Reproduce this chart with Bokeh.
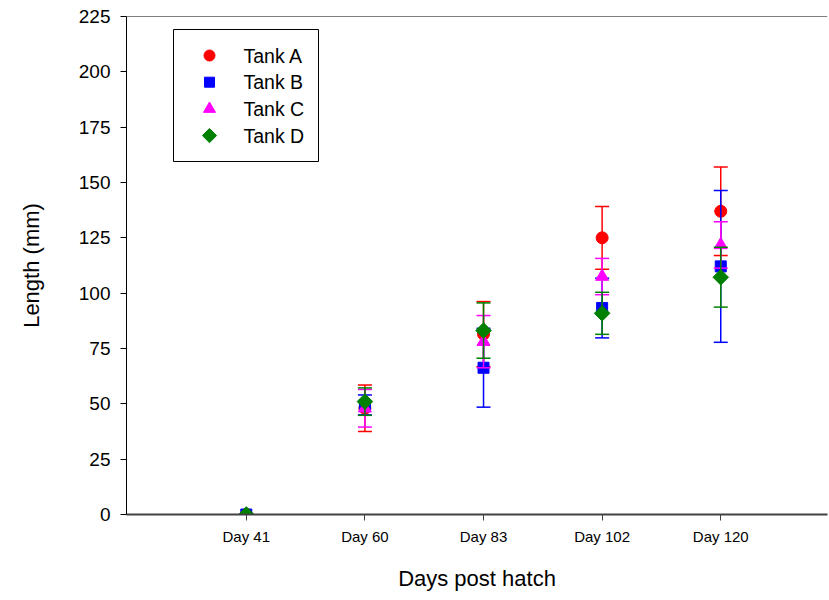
from bokeh.plotting import figure
from bokeh.models import Range1d, FixedTicker, Span
from bokeh.core.properties import value
from bokeh.embed import file_html
from bokeh.resources import INLINE
import math

days = ["Day 41", "Day 60", "Day 83", "Day 102", "Day 120"]
xpos = [1, 2, 3, 4, 5]

tank_a = [0, 48.0, 81.5, 125.0, 137.0]
tank_a_sd = [0, 10.5, 14.7, 14.2, 20.0]
tank_b = [0, 49.5, 66.3, 93.3, 112.1]
tank_b_sd = [0, 4.5, 17.8, 13.5, 34.3]
tank_c = [0, 48.0, 78.1, 107.5, 121.8]
tank_c_sd = [0, 8.5, 11.8, 8.2, 10.5]
tank_d = [0, 51.0, 83.1, 90.9, 107.2]
tank_d_sd = [0, 6.2, 12.5, 9.5, 13.5]

tank_names = ["Tank A", "Tank B", "Tank C", "Tank D"]
y_ticks = [0, 25, 50, 75, 100, 125, 150, 175, 200, 225]

FONT = "Liberation Sans"

# layout constants (pixels)
W, H = 829, 600
B_LEFT, B_RIGHT, B_TOP, B_BOTTOM = 126, 2, 16, 86
X0, X1, Y0, Y1 = -0.01, 5.9, 0, 225
FRAME_W = W - B_LEFT - B_RIGHT
FRAME_H = H - B_TOP - B_BOTTOM


def fx(px):  # frame pixel offset from left -> data x
    return X0 + px / FRAME_W * (X1 - X0)


def fy(py):  # frame pixel offset from top -> data y
    return Y1 - py / FRAME_H * (Y1 - Y0)


# legend box (frame pixel offsets)
LEG_L, LEG_T, LEG_R, LEG_B = 47, 13, 192, 145
LEG_MARK_X, LEG_TEXT_X = 83, 117
LEG_ROW0, LEG_ROW_STEP = 39, 26.7

p = figure(width=W, height=H, output_backend="svg", toolbar_location=None,
           x_range=Range1d(X0, X1), y_range=Range1d(Y0, Y1),
           min_border_left=B_LEFT, min_border_right=B_RIGHT, min_border_top=B_TOP,
           min_border_bottom=B_BOTTOM)
p.outline_line_color = None
p.grid.visible = False
p.background_fill_color = "white"

series = [
    (tank_a, tank_a_sd, "#FF0000", "circle", 12, 0, 11),
    (tank_b, tank_b_sd, "#0000FF", "square", 11, 0, 10),
    (tank_c, tank_c_sd, "#FF00FF", "triangle", 13, 0, 12),
    (tank_d, tank_d_sd, "#008000", "square", 11, math.pi / 4, 10),
]

for vals, sds, col, mk, sz, ang, lsz in series:
    xs, lo, hi = [], [], []
    for x, v, s in zip(xpos, vals, sds):
        if s > 0:
            xs.append(x)
            lo.append(v - s)
            hi.append(v + s)
    p.segment(x0=xs, y0=lo, x1=xs, y1=hi, line_color=col, line_width=1.5)
    p.scatter(x=xs, y=lo, marker="dash", size=14, line_color=col, line_width=1.5)
    p.scatter(x=xs, y=hi, marker="dash", size=14, line_color=col, line_width=1.5)
    p.scatter(x=xpos, y=vals, marker=mk, size=sz, angle=ang,
              fill_color=col, line_color=col)

# hand-drawn legend
p.quad(left=[fx(LEG_L)], right=[fx(LEG_R)], top=[fy(LEG_T)], bottom=[fy(LEG_B)],
       fill_color="white", line_color="black", line_width=1)
for i, ((vals, sds, col, mk, sz, ang, lsz), name) in enumerate(zip(series, tank_names)):
    yy = fy(LEG_ROW0 + i * LEG_ROW_STEP)
    p.scatter(x=[fx(LEG_MARK_X)], y=[yy], marker=mk, size=lsz, angle=ang,
              fill_color=col, line_color=col)
    p.text(x=[fx(LEG_TEXT_X)], y=[yy], text=[name], text_font=value(FONT),
           text_font_size="19.5px", text_color="black", text_baseline="middle",
           text_align="left")

p.add_layout(Span(location=225, dimension="width", line_color="black", line_width=1))

xa = p.xaxis[0]
xa.ticker = FixedTicker(ticks=xpos)
xa.major_label_overrides = {x: d for x, d in zip(xpos, days)}
xa.minor_tick_line_color = None
xa.major_tick_in = 0
xa.major_tick_out = 6
xa.axis_line_color = "#404040"
xa.axis_line_width = 2
xa.major_tick_line_color = "#404040"
xa.major_label_text_font = FONT
xa.major_label_text_font_size = "15px"
xa.major_label_text_color = "black"
xa.major_label_standoff = 7
xa.axis_label = "Days post hatch"
xa.axis_label_text_font = FONT
xa.axis_label_text_font_size = "22px"
xa.axis_label_text_font_style = "normal"
xa.axis_label_text_color = "black"
xa.axis_label_standoff = 18

ya = p.yaxis[0]
ya.ticker = FixedTicker(ticks=y_ticks)
ya.minor_tick_line_color = None
ya.major_tick_in = 0
ya.major_tick_out = 6
ya.axis_line_color = "black"
ya.major_tick_line_color = "black"
ya.major_label_text_font = FONT
ya.major_label_text_font_size = "19px"
ya.major_label_text_color = "black"
ya.major_label_standoff = 10
ya.axis_label = "Length (mm)"
ya.axis_label_text_font = FONT
ya.axis_label_text_font_size = "22px"
ya.axis_label_text_font_style = "normal"
ya.axis_label_text_color = "black"
ya.axis_label_standoff = 32

open("out.html", "w").write(file_html(p, INLINE))
